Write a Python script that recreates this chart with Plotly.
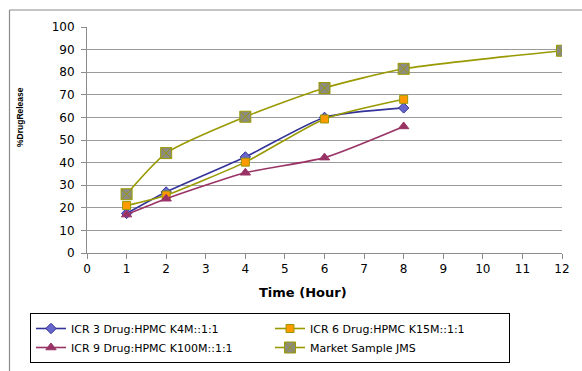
import plotly.graph_objects as go

# Dissolution time points (hours)
time_icr = [1, 2, 4, 6, 8]
time_market = [1, 2, 4, 6, 8, 12]

# Percent drug released
icr3 = [17.5, 27, 42.5, 60, 64.2]
icr6 = [21, 25.6, 40.2, 59.3, 68]
icr9 = [17, 24, 35.5, 42.2, 56]
market = [26, 44.2, 60.3, 73, 81.5, 89.5]

x_ticks = list(range(0, 13))
y_ticks = list(range(0, 101, 10))

OLIVE = "#999900"
WIDE = "DejaVu Sans, Verdana, sans-serif"

fig = go.Figure()

fig.add_trace(go.Scatter(
    x=time_icr, y=icr3, name="ICR 3 Drug:HPMC K4M::1:1",
    mode="lines+markers", line=dict(color="#333399", width=1.6, shape="spline", smoothing=0.6),
    marker=dict(symbol="diamond", size=8, color="#6666cc", line=dict(color="#333399", width=1)),
))
fig.add_trace(go.Scatter(
    x=time_icr, y=icr6, name="ICR 6 Drug:HPMC K15M::1:1",
    mode="lines+markers", line=dict(color=OLIVE, width=1.6, shape="spline", smoothing=0.6),
    marker=dict(symbol="square", size=8, color="#ff9900", line=dict(color=OLIVE, width=1)),
))
fig.add_trace(go.Scatter(
    x=time_icr, y=icr9, name="ICR 9 Drug:HPMC K100M::1:1",
    mode="lines+markers", line=dict(color="#993366", width=1.6, shape="spline", smoothing=0.6),
    marker=dict(symbol="triangle-up", size=9, color="#993366", line=dict(color="#993366", width=1)),
))
fig.add_trace(go.Scatter(
    x=time_market, y=market, name="Market Sample JMS",
    mode="lines+markers", line=dict(color=OLIVE, width=1.6, shape="spline", smoothing=0.6),
    marker=dict(symbol="square-x", size=11, color="#8c8c84", line=dict(color=OLIVE, width=1)),
))

fig.update_layout(
    width=582, height=371,
    margin=dict(l=87, r=20, t=27, b=118, autoexpand=False),
    paper_bgcolor="white", plot_bgcolor="white",
    font=dict(family=WIDE, size=11, color="black"),
    showlegend=True,
    legend=dict(
        orientation="h", xref="paper", yref="paper",
        x=(30 - 87) / 475, y=(253 - 313) / 226, xanchor="left", yanchor="top",
        bordercolor="black", borderwidth=1, bgcolor="white",
        font=dict(size=11), entrywidth=194, entrywidthmode="pixels",
        itemwidth=30, tracegroupgap=0,
    ),
    xaxis=dict(
        range=[0, 12], tickvals=x_ticks, showgrid=False, zeroline=False,
        showline=True, linecolor="#8c8c8c", linewidth=1,
        ticks="outside", ticklen=5, tickcolor="#8c8c8c",
        tickfont=dict(size=12),
    ),
    yaxis=dict(
        range=[0, 100], tickvals=y_ticks, showgrid=True, gridcolor="#9a9a9a", gridwidth=1,
        zeroline=False, showline=True, linecolor="#8c8c8c", linewidth=1,
        ticks="outside", ticklen=5, tickcolor="#8c8c8c",
        tickfont=dict(size=12), ticklabelstandoff=4,
    ),
)

# Axis titles
fig.add_annotation(
    xref="paper", yref="paper", x=(303 - 87) / 475, y=-39 / 226,
    text="<b>Time (Hour)</b>", showarrow=False, font=dict(size=13),
    xanchor="center", yanchor="middle",
)
fig.add_annotation(
    xref="paper", yref="paper", x=(20 - 87) / 475, y=(253 - 117) / 226,
    text="<b>%DrugRelease</b>", showarrow=False, textangle=-90,
    font=dict(family="Liberation Sans, Arial, sans-serif", size=8.5),
    xanchor="center", yanchor="middle",
)

# Chart frame (left and top edges)
fig.add_shape(type="line", xref="paper", yref="paper",
              x0=(9.5 - 87) / 475, x1=(9.5 - 87) / 475, y0=(253 - 371) / 226, y1=(253 - 10) / 226,
              line=dict(color="#8c8c8c", width=1.2))
fig.add_shape(type="line", xref="paper", yref="paper",
              x0=(9.5 - 87) / 475, x1=(582 - 87) / 475, y0=(253 - 10) / 226, y1=(253 - 10) / 226,
              line=dict(color="#8c8c8c", width=1.2))

fig.write_html("out.html")
